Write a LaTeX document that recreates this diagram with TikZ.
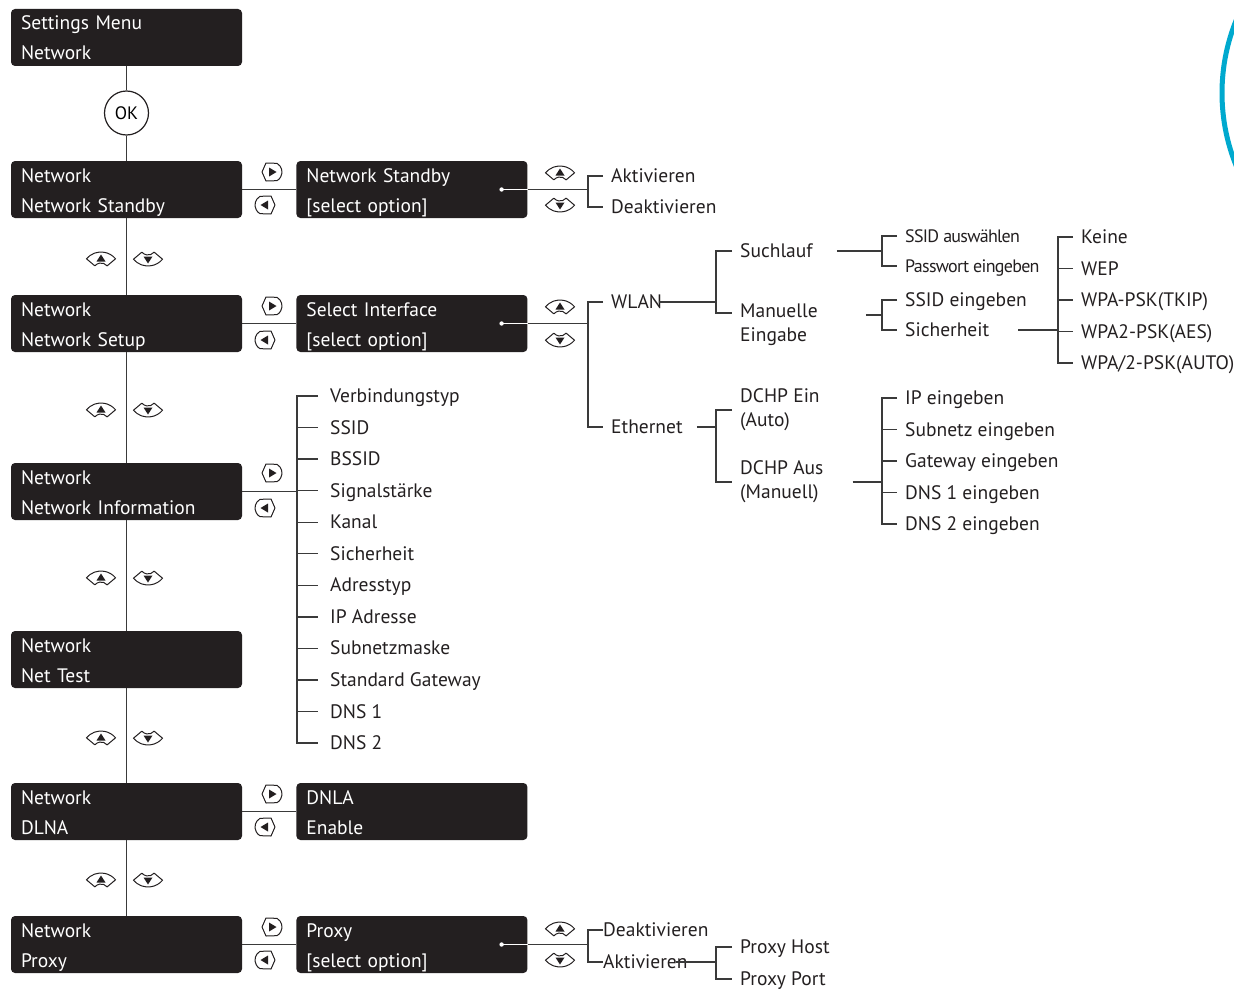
\documentclass[tikz,border=0pt]{standalone}
\usepackage{fontspec}
\setmainfont{PT Sans}
\usetikzlibrary{positioning, calc}
\definecolor{boxblack}{HTML}{231F20}
\definecolor{wirecol}{HTML}{3A3A3A}
\definecolor{ringcyan}{HTML}{00A9CE}
\tikzset{
  menubox/.style={rectangle, rounded corners=4pt, fill=boxblack, text=white, minimum width=231pt, minimum height=57pt, text width=211pt, text height=19pt, text depth=34pt, align=left, inner sep=0pt, font=\fontsize{19.5}{30}\selectfont},
  okbtn/.style={circle, draw=boxblack, line width=1.2pt, fill=white, minimum size=44pt, inner sep=0pt, font=\fontsize{18}{20}\selectfont},
  item/.style={anchor=west, inner sep=0pt, text height=13pt, text depth=0pt, text=boxblack, font=\fontsize{19.5}{24}\selectfont},
  item2/.style={anchor=west, inner sep=0pt, align=left, text=boxblack, font=\fontsize{19.5}{24}\selectfont},
  smallitem/.style={item, font=\fontsize{18}{20}\selectfont\addfontfeatures{LetterSpace=-4}},
  wire/.style={draw=wirecol, line width=1.3pt},
  keyline/.style={draw=boxblack, line width=1pt, fill=white, line join=round},
  keyup/.pic={
    \draw[keyline, shift={(0,12)}] (220:19) arc (220:320:19) -- (320:8) arc (320:220:8) -- cycle;
    \fill[boxblack] (0,-4.5) -- (-4.5,2.5) -- (4.5,2.5) -- cycle;
  },
  keydown/.pic={\pic[yscale=-1]{keyup};},
  keyright/.pic={
    \draw[keyline] (-60:10) arc (-60:60:10) -- (-6,9) -- (-10,0) -- (-6,-9) -- cycle;
    \fill[boxblack] (4.5,0) -- (-3,-4.5) -- (-3,4.5) -- cycle;
  },
  keyleft/.pic={\pic[xscale=-1]{keyright};},
}

\begin{document}
\begin{tikzpicture}[x=1pt, y=-1pt]
  \useasboundingbox (0,0) rectangle (1234,990);

  % Menu column
  \node[menubox] (settings) at (126.5,37.5) {Settings Menu\\Network};
  \node[okbtn] (ok) at (126.5,113) {OK};
  \node[menubox] (netstandby) at (126.5,189.5) {Network\\Network Standby};
  \node[menubox] (netsetup) at (126.5,323.5) {Network\\Network Setup};
  \node[menubox] (netinfo) at (126.5,491.5) {Network\\Network Information};
  \node[menubox] (nettest) at (126.5,659.5) {Network\\Net Test};
  \node[menubox] (netdlna) at (126.5,811.5) {Network\\DLNA};
  \node[menubox] (netproxy) at (126.5,944.5) {Network\\Proxy};

  % Option boxes
  \node[menubox, right=54pt of netstandby] (standbyopt) {Network Standby\\{[select option]}};
  \node[menubox, right=54pt of netsetup] (ifaceopt) {Select Interface\\{[select option]}};
  \node[menubox, right=54pt of netdlna] (dnlaopt) {DNLA\\Enable};
  \node[menubox, right=54pt of netproxy] (proxyopt) {Proxy\\{[select option]}};

  % Spine and side links
  \draw[wire] (settings) -- (ok);
  \draw[wire] (ok) -- (netstandby);
  \foreach \a/\b in {netstandby/netsetup, netsetup/netinfo, netinfo/nettest, nettest/netdlna, netdlna/netproxy}
    \draw[wire] (\a) -- (\b);
  \foreach \a/\b in {netstandby/standbyopt, netsetup/ifaceopt, netdlna/dnlaopt, netproxy/proxyopt}
    \draw[wire] (\a.east) -- (\b.west);
  \foreach \o in {standbyopt, ifaceopt, proxyopt} {
    \draw[line width=1.3pt, white] ([xshift=-26pt]\o.east) -- (\o.east);
    \fill[white] ([xshift=-26pt]\o.east) circle (2.2);
  }

  % Keys
  \foreach \y in {259, 410, 578, 738, 880} {
    \pic at (101,\y) {keyup};
    \pic at (148,\y) {keydown};
  }
  \foreach \y/\z in {172/205, 306/340, 473/508, 794/827, 927/960} {
    \pic at (272,\y) {keyright};
    \pic at (265,\z) {keyleft};
  }
  \foreach \y/\z in {173/205, 307/340, 929/960} {
    \pic at (560,\y) {keyup};
    \pic at (560,\z) {keydown};
  }

  % Network Standby options
  \node[item] (aktiv) at (611,176) {Aktivieren};
  \node[item] (deaktiv) at (611,207) {Deaktivieren};
  \coordinate (sbsp) at ([xshift=-23pt]aktiv.west);
  \draw[wire] ([xshift=-8pt]aktiv.west) -| ([xshift=-23pt]deaktiv.west) -- ([xshift=-8pt]deaktiv.west);
  \draw[wire] (standbyopt.east) -- (standbyopt.east -| sbsp);

  % Interface options
  \node[item] (wlan) at (611,302) {WLAN};
  \node[item] (ether) at (611,427) {Ethernet};
  \coordinate (ifsp) at ([xshift=-23pt]wlan.west);
  \draw[wire] ([xshift=-8pt]wlan.west) -| ([xshift=-23pt]ether.west) -- ([xshift=-8pt]ether.west);
  \draw[wire] (ifaceopt.east) -- (ifaceopt.east -| ifsp);

  % WLAN
  \node[item] (such) at (740,251) {Suchlauf};
  \node[item2] (manuell) at (740,325) {Manuelle\\Eingabe};
  \coordinate (wlsp) at ([xshift=-24pt]such.west);
  \draw[wire] ([xshift=-8pt]such.west) -| ([xshift=-24pt,yshift=12pt]manuell.west) -- ([xshift=-8pt,yshift=12pt]manuell.west);
  \draw[wire, shorten <=-3pt] (wlan.east) -- (wlan.east -| wlsp);

  \node[smallitem] (ssidaus) at (905,236) {SSID auswählen};
  \node[smallitem] (passwort) at (905,266) {Passwort eingeben};
  \coordinate (susp) at ($(ssidaus.west)!.5!(passwort.west)+(-23pt,0)$);
  \draw[wire] ([xshift=-8pt]ssidaus.west) -| ([xshift=-23pt]passwort.west) -- ([xshift=-8pt]passwort.west);
  \draw[wire, shorten <=24pt] (susp -| such.east) -- (susp);

  \node[item] (ssidein) at (905,300) {SSID eingeben};
  \node[item] (sicher) at (905,330) {Sicherheit};
  \coordinate (mesp) at ($(ssidein.west)!.5!(sicher.west)+(-23pt,0)$);
  \draw[wire] ([xshift=-8pt]ssidein.west) -| ([xshift=-23pt]sicher.west) -- ([xshift=-8pt]sicher.west);
  \draw[wire, shorten <=48pt] (mesp -| manuell.east) -- (mesp);

  % Security modes
  \foreach \txt [count=\i] in {Keine, WEP, WPA-PSK(TKIP), WPA2-PSK(AES), WPA/2-PSK(AUTO)}
    \node[item] (sec\i) at (1081, {237+31.5*(\i-1)}) {\txt};
  \coordinate (wpasp) at ([xshift=-23pt]sec1.west);
  \draw[wire] ([xshift=-8pt]sec1.west) -| ([xshift=-23pt]sec5.west) -- ([xshift=-8pt]sec5.west);
  \foreach \i in {2,3,4}
    \draw[wire] ([xshift=-23pt]sec\i.west) -- ([xshift=-8pt]sec\i.west);
  \draw[wire, shorten <=29pt] (sicher.east) -- (sicher.east -| wpasp);

  % Ethernet
  \node[item2] (dchpein) at (740,410) {DCHP Ein\\(Auto)};
  \node[item2] (dchpaus) at (740,482) {DCHP Aus\\(Manuell)};
  \coordinate (ethsp) at ([xshift=-24pt]dchpein.west);
  \draw[wire] ([xshift=-8pt]dchpein.west) -| ([xshift=-24pt]dchpaus.west) -- ([xshift=-8pt]dchpaus.west);
  \draw[wire, shorten <=14pt] (ether.east) -- (ether.east -| ethsp);

  \foreach \txt [count=\i] in {IP eingeben, Subnetz eingeben, Gateway eingeben, DNS 1 eingeben, DNS 2 eingeben}
    \node[item] (ip\i) at (905, {398+31.5*(\i-1)}) {\txt};
  \coordinate (ipsp) at ([xshift=-23pt]ip1.west);
  \draw[wire] ([xshift=-8pt]ip1.west) -| ([xshift=-23pt]ip5.west) -- ([xshift=-8pt]ip5.west);
  \foreach \i in {2,3,4}
    \draw[wire] ([xshift=-23pt]ip\i.west) -- ([xshift=-8pt]ip\i.west);
  \draw[wire, shorten <=29pt] (dchpaus.east) -- (dchpaus.east -| ipsp);

  % Network information list
  \foreach \txt [count=\i] in {Verbindungstyp, SSID, BSSID, Signalstärke, Kanal, Sicherheit, Adresstyp, IP Adresse, Subnetzmaske, Standard Gateway, DNS 1, DNS 2}
    \node[item] (info\i) at (330, {396+31.55*(\i-1)}) {\txt};
  \coordinate (infosp) at ([xshift=-33pt]info1.west);
  \draw[wire] ([xshift=-12pt]info1.west) -| ([xshift=-33pt]info12.west) -- ([xshift=-12pt]info12.west);
  \foreach \i in {2,...,11}
    \draw[wire] ([xshift=-33pt]info\i.west) -- ([xshift=-12pt]info\i.west);
  \draw[wire] (netinfo.east) -- (netinfo.east -| infosp);

  % Proxy options
  \node[item] (pxdeak) at (603,930) {Deaktivieren};
  \node[item] (pxaktiv) at (603,962) {Aktivieren};
  \coordinate (pxsp) at ([xshift=-15pt]pxdeak.west);
  \draw[wire] (pxdeak.west) -| ([xshift=-15pt]pxaktiv.west) -- (pxaktiv.west);
  \draw[wire] (proxyopt.east) -- (proxyopt.east -| pxsp);

  \node[item] (pxhost) at (740,947) {Proxy Host};
  \node[item] (pxport) at (740,979) {Proxy Port};
  \coordinate (hpsp) at ([xshift=-24pt]pxhost.west);
  \draw[wire] ([xshift=-8pt]pxhost.west) -| ([xshift=-24pt]pxport.west) -- ([xshift=-8pt]pxport.west);
  \draw[wire, shorten <=-12pt] (pxaktiv.east) -- (pxaktiv.east -| hpsp);

  % Cyan ring at the edge
  \begin{scope}
    \clip (0,0) rectangle (1234,990);
    \draw[ringcyan, line width=5pt] (1415,93) circle (193);
  \end{scope}
\end{tikzpicture}
\end{document}
